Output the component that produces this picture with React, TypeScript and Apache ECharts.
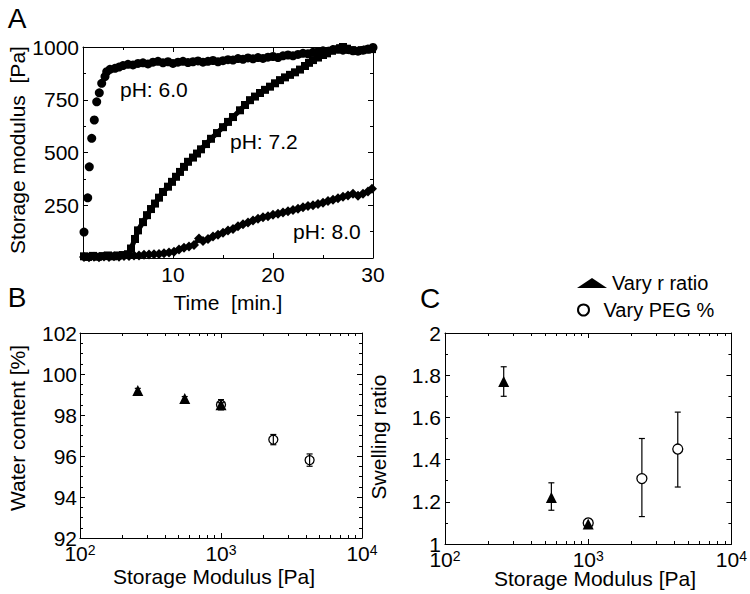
import React, { useEffect, useRef } from 'react';
import * as echarts from 'echarts';

const FONT = "'Liberation Sans', Arial, Helvetica, sans-serif";

// ---------- Panel A data ----------
const timeLabels = [10, 20, 30];
const timeMinorTicks = [5, 15, 25];
const modulusLabels = [250, 500, 750, 1000];
const modulusMinorTicks = [125, 375, 625, 875];

const ph60: [number, number][] = [
  [1.1, 123], [1.47, 285], [1.63, 432], [1.87, 567], [2.13, 654], [2.37, 740], [2.63, 783], [2.87, 828],
  [3.2, 860], [3.37, 883], [3.7, 894], [4.2, 899], [4.6, 905], [5.0, 912], [5.5, 918], [6.0, 915],
  [6.5, 922], [7.0, 925], [7.5, 920], [8.0, 928], [8.5, 932], [9.0, 925], [9.5, 930], [10.0, 922],
  [10.5, 928], [11.0, 932], [11.5, 926], [12.0, 930], [12.5, 934], [13.0, 928], [13.5, 932], [14.0, 936],
  [14.5, 930], [15.0, 935], [15.5, 940], [16.0, 938], [16.5, 945], [17.0, 942], [17.5, 948], [18.0, 944],
  [18.5, 950], [19.0, 946], [19.5, 952], [20.0, 955], [20.5, 950], [21.0, 958], [21.5, 962], [22.0, 958],
  [22.5, 965], [23.0, 970], [23.5, 968], [24.0, 975], [24.5, 978], [25.0, 982], [25.5, 980], [26.0, 988],
  [26.5, 990], [27.0, 985], [27.5, 988], [28.0, 982], [28.5, 980], [29.0, 985], [29.5, 990], [30.0, 998],
];

const ph72: [number, number][] = [
  [1.1, 8], [1.5, 5], [2.0, 10], [2.5, 6], [3.0, 9], [3.5, 12], [4.0, 8], [4.5, 12], [5.0, 14], [5.5, 18],
  [5.8, 45], [6.2, 90], [6.5, 131], [7.0, 170], [7.4, 203], [7.8, 232], [8.2, 258], [8.6, 286], [9.0, 313],
  [9.5, 338], [9.9, 361], [10.3, 385], [10.7, 408], [11.1, 432], [11.5, 456], [12.0, 476], [12.4, 495],
  [12.8, 515], [13.3, 540], [13.8, 565], [14.4, 592], [15.0, 620], [15.5, 645], [16.0, 668], [16.7, 700],
  [17.2, 725], [17.7, 748], [18.2, 765], [18.7, 782], [19.2, 797], [19.7, 812], [20.2, 828], [20.7, 843],
  [21.2, 856], [21.7, 868], [22.2, 880], [22.7, 893], [23.2, 910], [23.6, 925], [24.0, 938], [24.5, 950],
  [25.0, 962], [25.4, 970], [25.9, 982], [26.3, 988], [26.7, 994], [27.0, 1000], [27.4, 992], [27.9, 985],
  [28.4, 982], [28.9, 985], [29.4, 988], [29.9, 990],
];

const ph80: [number, number][] = [
  [1.1, 5], [1.6, 3], [2.1, 6], [2.6, 4], [3.1, 7], [3.6, 5], [4.1, 8], [4.6, 6], [5.1, 9], [5.6, 10],
  [6.1, 12], [6.6, 12], [7.1, 15], [7.6, 16], [8.1, 18], [8.6, 19], [9.1, 22], [9.6, 26], [10.1, 30],
  [10.6, 40], [11.1, 48], [11.6, 55], [12.1, 62], [12.6, 92], [13.0, 80], [13.5, 90], [14.0, 102],
  [14.5, 110], [15.0, 120], [15.5, 130], [16.0, 138], [16.5, 150], [17.0, 160], [17.5, 168], [18.0, 178],
  [18.5, 186], [19.0, 193], [19.5, 198], [20.0, 205], [20.5, 210], [21.0, 216], [21.5, 222], [22.0, 228],
  [22.5, 234], [23.0, 240], [23.5, 246], [24.0, 250], [24.5, 256], [25.0, 262], [25.5, 270], [26.0, 276],
  [26.5, 283], [27.0, 290], [27.5, 296], [28.0, 305], [28.5, 295], [29.0, 305], [29.5, 315], [29.9, 328],
];

// ---------- Panels B & C data ----------
const logLabels = [100, 1000, 10000];
const logMinorTicks = [200, 300, 400, 500, 600, 700, 800, 900, 2000, 3000, 4000, 5000, 6000, 7000, 8000, 9000];

const waterLabels = [92, 94, 96, 98, 100, 102];
const waterMinorTicks = [92.5, 93, 93.5, 94.5, 95, 95.5, 96.5, 97, 97.5, 98.5, 99, 99.5, 100.5, 101, 101.5];
const swellLabels = [1, 1.2, 1.4, 1.6, 1.8, 2];
const swellMinorTicks = [1.1, 1.3, 1.5, 1.7, 1.9];

// [storage modulus, value, low, high]
const waterRatio: number[][] = [[257, 99.2, 99.1, 99.3], [553, 98.8, 98.7, 98.9], [1000, 98.5, 98.4, 98.6]];
const waterPeg: number[][] = [[1000, 98.5, 98.25, 98.75], [2350, 96.8, 96.55, 97.05], [4250, 95.8, 95.5, 96.1]];
const swellRatio: number[][] = [[257, 1.77, 1.70, 1.84], [553, 1.22, 1.16, 1.29], [1000, 1.095, 1.08, 1.115]];
const swellPeg: number[][] = [[1000, 1.10, 1.085, 1.12], [2370, 1.31, 1.13, 1.50], [4220, 1.45, 1.27, 1.625]];

function buildAxes(dim: 'x' | 'y', gridIndex: number, kind: 'value' | 'log', min: number, max: number,
  majors: number[], minors: number[], label: any) {
  const positions = dim === 'x' ? ['bottom', 'top'] : ['left', 'right'];
  const res: any[] = [];
  positions.forEach((pos, i) => {
    [true, false].forEach((isMajor) => {
      const ax: any = {
        type: kind, gridIndex, position: pos, min, max,
        axisLine: { show: isMajor, onZero: false, lineStyle: { color: '#000', width: 1 } },
        axisTick: { show: true, inside: true, length: isMajor ? 5 : 3, customValues: isMajor ? majors : minors,
          lineStyle: { color: '#000', width: 1 } },
        axisLabel: (i === 0 && isMajor) ? { ...label, customValues: majors } : { show: false },
        splitLine: { show: false }, minorTick: { show: false }, splitArea: { show: false },
        axisPointer: { show: false },
      };
      if (kind === 'log') ax.logBase = 10;
      res.push(ax);
    });
  });
  return res;
}

const plainLabel = (margin: number) => ({
  show: true, color: '#000', fontSize: 21, fontFamily: FONT, margin,
  formatter: (v: number) => String(v),
});
const logLabel = (margin: number) => ({
  show: true, margin,
  formatter: (v: number) => `{b|10}{e|${Math.round(Math.log10(v))}}`,
  rich: {
    b: { fontSize: 21, color: '#000', fontFamily: FONT, lineHeight: 20 },
    e: { fontSize: 14, color: '#000', fontFamily: FONT, verticalAlign: 'top', lineHeight: 20 },
  },
});

function errorBars(rows: number[][], xi: number, yi: number, z: number) {
  return {
    type: 'custom', xAxisIndex: xi, yAxisIndex: yi, z, silent: true,
    data: rows.map((r) => [r[0], r[2], r[3]]),
    encode: { x: 0, y: [1, 2] },
    renderItem: (params: any, api: any) => {
      const x = api.value(0);
      const lo = api.coord([x, api.value(1)]);
      const hi = api.coord([x, api.value(2)]);
      const w = 3;
      const st = { stroke: '#000', lineWidth: 1.2 };
      return {
        type: 'group',
        children: [
          { type: 'line', shape: { x1: lo[0], y1: lo[1], x2: hi[0], y2: hi[1] }, style: st },
          { type: 'line', shape: { x1: lo[0] - w, y1: lo[1], x2: lo[0] + w, y2: lo[1] }, style: st },
          { type: 'line', shape: { x1: hi[0] - w, y1: hi[1], x2: hi[0] + w, y2: hi[1] }, style: st },
        ],
      };
    },
  };
}

const txt = (text: string, x: number, y: number, fontSize: number, extra: any = {}) => ({
  type: 'text', x, y, silent: true, ...extra,
  style: { text, fontSize, fontFamily: FONT, fill: '#000', align: extra.align || 'center', verticalAlign: 'middle' },
});

export default function App() {
  const ref = useRef<HTMLDivElement>(null);
  useEffect(() => {
    if (!ref.current) return;
    const chart = echarts.init(ref.current, undefined, { renderer: 'svg' });
    const xAxes = [
      ...buildAxes('x', 0, 'value', 1, 30, timeLabels, timeMinorTicks, plainLabel(6)),
      ...buildAxes('x', 1, 'log', 100, 10000, logLabels, logMinorTicks, logLabel(5)),
      ...buildAxes('x', 2, 'log', 100, 10000, logLabels, logMinorTicks, logLabel(5)),
    ];
    const yAxes = [
      ...buildAxes('y', 0, 'value', 0, 1000, modulusLabels, modulusMinorTicks, plainLabel(4)),
      ...buildAxes('y', 1, 'value', 92, 102, waterLabels, waterMinorTicks, plainLabel(3)),
      ...buildAxes('y', 2, 'value', 1, 2, swellLabels, swellMinorTicks, plainLabel(4)),
    ];
    const legendText = { fontSize: 20, color: '#000', fontFamily: FONT };
    const option: any = {
      animation: false,
      backgroundColor: '#fff',
      grid: [
        { left: 83, top: 47, width: 290, height: 211 },
        { left: 80, top: 333, width: 282, height: 205 },
        { left: 445, top: 333, width: 288, height: 211 },
      ],
      xAxis: xAxes,
      yAxis: yAxes,
      legend: [
        { data: ['Vary r ratio'], left: 572, top: 268, itemWidth: 30, itemHeight: 10,
          textStyle: legendText, selectedMode: false },
        { data: ['Vary PEG %'], left: 572, top: 295, itemWidth: 30, itemHeight: 11,
          textStyle: legendText, selectedMode: false },
      ],
      series: [
        { type: 'scatter', name: 'pH: 6.0', xAxisIndex: 0, yAxisIndex: 0, data: ph60, symbol: 'circle',
          symbolSize: 9, itemStyle: { color: '#000', opacity: 1 } },
        { type: 'line', name: 'pH: 7.2', xAxisIndex: 0, yAxisIndex: 0, data: ph72, symbol: 'rect',
          symbolSize: 8, showSymbol: true, lineStyle: { color: '#000', width: 5 }, itemStyle: { color: '#000', opacity: 1 } },
        { type: 'line', name: 'pH: 8.0', xAxisIndex: 0, yAxisIndex: 0, data: ph80, symbol: 'diamond',
          symbolSize: 10, showSymbol: true, lineStyle: { color: '#000', width: 4 }, itemStyle: { color: '#000', opacity: 1 } },

        { type: 'scatter', name: 'Water r ratio', xAxisIndex: 4, yAxisIndex: 4, data: waterRatio.map((r) => [r[0], r[1]]),
          symbol: 'triangle', symbolSize: 11, itemStyle: { color: '#000', opacity: 1 }, z: 2 },
        { type: 'scatter', name: 'Water PEG %', xAxisIndex: 4, yAxisIndex: 4, data: waterPeg.map((r) => [r[0], r[1]]),
          symbol: 'circle', symbolSize: 9, itemStyle: { color: 'rgba(255,255,255,0)', borderColor: '#000', borderWidth: 1.3, opacity: 1 }, z: 2 },
        errorBars(waterRatio, 4, 4, 3),
        errorBars(waterPeg, 4, 4, 3),

        errorBars(swellRatio, 8, 8, 1),
        errorBars(swellPeg, 8, 8, 1),
        { type: 'scatter', name: 'Vary r ratio', xAxisIndex: 8, yAxisIndex: 8, data: swellRatio.map((r) => [r[0], r[1]]),
          symbol: 'triangle', symbolSize: 11, itemStyle: { color: '#000', opacity: 1 }, z: 3 },
        { type: 'scatter', name: 'Vary PEG %', xAxisIndex: 8, yAxisIndex: 8, data: swellPeg.map((r) => [r[0], r[1]]),
          symbol: 'circle', symbolSize: 10, itemStyle: { color: '#fff', borderColor: '#000', borderWidth: 1.3, opacity: 1 }, z: 2 },
      ],
      graphic: [
        txt('A', 17, 18, 28),
        txt('B', 17, 297, 28),
        txt('C', 430, 298, 28),
        txt('Storage modulus  [Pa]', 17, 150, 21, { rotation: Math.PI / 2 }),
        txt('Time  [min.]', 228, 302, 21),
        txt('pH: 6.0', 120, 89, 21, { align: 'left' }),
        txt('pH: 7.2', 230, 141, 21, { align: 'left' }),
        txt('pH: 8.0', 293, 231, 21, { align: 'left' }),
        txt('Water content [%]', 17, 428, 21, { rotation: Math.PI / 2 }),
        txt('Storage Modulus [Pa]', 214, 576, 21),
        txt('Swelling ratio', 378, 437, 21, { rotation: Math.PI / 2 }),
        txt('Storage Modulus [Pa]', 595, 578, 21),
      ],
    };
    chart.setOption(option);
    return () => chart.dispose();
  }, []);
  return <div ref={ref} style={{ position: 'fixed', left: 0, top: 0, width: 750, height: 594 }} />;
}
